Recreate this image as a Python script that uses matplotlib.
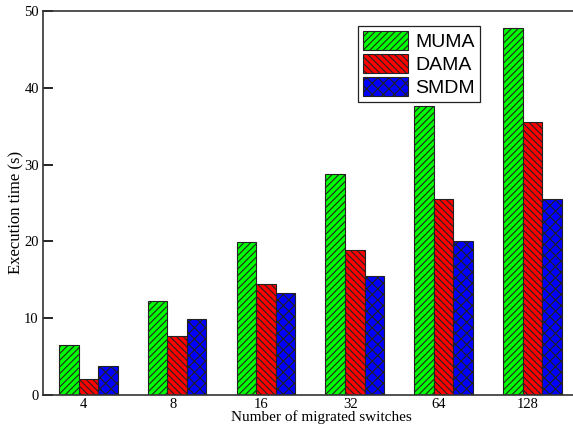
import numpy as np
import matplotlib
matplotlib.use("Agg")
import matplotlib.pyplot as plt

# ── Data ──────────────────────────────────────────────
switches = ["4", "8", "16", "32", "64", "128"]
muma = [6.5, 12.2, 19.9, 28.8, 37.6, 47.8]
dama = [2.1, 7.7, 14.5, 18.9, 25.5, 35.5]
smdm = [3.8, 9.9, 13.3, 15.5, 20.0, 25.5]

SERIES = [
    ("MUMA", muma, "#00ff00", "/////"),
    ("DAMA", dama, "#ff0000", "\\\\\\\\\\"),
    ("SMDM", smdm, "#0000ff", "xxx"),
]

plt.rcParams["hatch.linewidth"] = 0.8
plt.rcParams["font.family"] = ["Liberation Serif", "DejaVu Serif"]

W, H = 573, 425
fig = plt.figure(figsize=(W / 100, H / 100), dpi=100)
ax = fig.add_axes([43 / W, 1 - 395 / H, 532 / W, 384 / H])

x = np.arange(len(switches), dtype=float)
bar_w = 0.22
for j, (lbl, vals, col, hatch) in enumerate(SERIES):
    ax.bar(x + (j - 1) * bar_w, vals, width=bar_w, color=col, hatch=hatch,
           edgecolor="#222222", linewidth=0.8, label=lbl)

# group centres sit at ~88 px and ~532 px
ax.set_xlim(-0.51, 5.48)
ax.set_ylim(0, 50)
ax.set_yticks([0, 10, 20, 30, 40, 50])
ax.set_xticks(x - 0.05)
ax.set_xticklabels(switches)
ax.tick_params(axis="y", direction="in", length=7, width=1.2, labelsize=10.5, pad=3)
ax.tick_params(axis="x", length=0, labelsize=10.5, pad=2)
for sp in ax.spines.values():
    sp.set_linewidth(1.2)
    sp.set_color("#333333")

fig.text(321 / W, 1 - 421 / H, "Number of migrated switches", fontsize=11,
         ha="center", va="baseline")
fig.text(16 / W, 1 - 212 / H, "Execution time (s)", fontsize=12,
         ha="center", va="center", rotation=90)

lgd = ax.legend(loc="upper left", bbox_to_anchor=(0.592, 0.96),
                prop={"family": "Liberation Sans", "size": 14},
                handlelength=2.3, handleheight=1.1, handletextpad=0.4,
                labelspacing=0.15, borderpad=0.25, borderaxespad=0.0,
                fancybox=False, framealpha=1.0)
lgd.get_frame().set_edgecolor("#222222")
lgd.get_frame().set_linewidth(0.9)

fig.savefig("out.png", dpi=100)
